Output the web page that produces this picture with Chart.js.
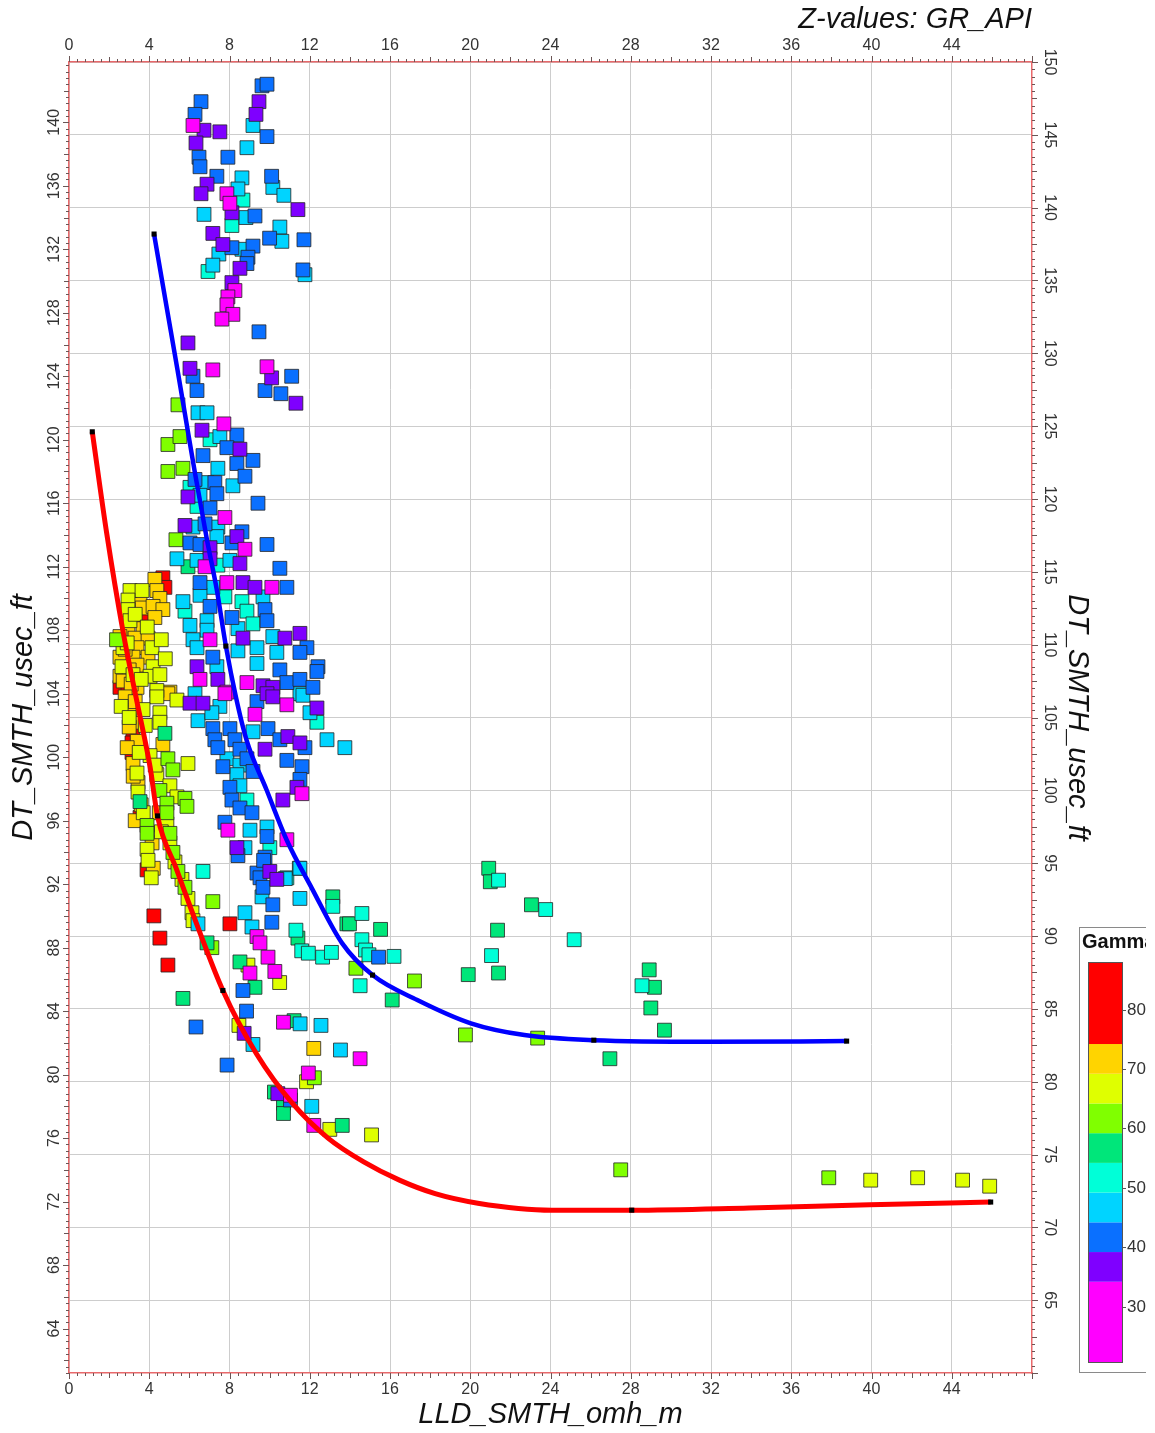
<!DOCTYPE html>
<html>
<head>
<meta charset="utf-8">
<title>LLD vs DT crossplot</title>
<script src="https://cdn.jsdelivr.net/npm/chart.js@4.4.1/dist/chart.umd.min.js"></script>
<style>
  html, body { margin: 0; padding: 0; background: #fff; }
  #wrap { width: 1155px; height: 1433px; }
</style>
</head>
<body>
<div id="wrap"><canvas id="crossplot" width="1155" height="1433"></canvas></div>
<script>
// axis tick labels
const lldTicks = [0, 4, 8, 12, 16, 20, 24, 28, 32, 36, 40, 44];
const dtLeftTicks = [64, 68, 72, 76, 80, 84, 88, 92, 96, 100, 104, 108, 112, 116, 120, 124, 128, 132, 136, 140];
const dtRightTicks = [65, 70, 75, 80, 85, 90, 95, 100, 105, 110, 115, 120, 125, 130, 135, 140, 145, 150];
const gammaTicks = [30, 40, 50, 60, 70, 80];

// colour scale of GR_API (band edges and colours, low to high)
const bandEdges = [34.2, 39.2, 44.2, 49.2, 54.2, 59.2, 64.2, 69.2, 74.2];
const bandColors = ['#ff00ff', '#7f00ff', '#0a70ff', '#00d4ff', '#00ffd8', '#00e67a', '#80ff00', '#dfff00', '#ffd400', '#ff0000'];

// samples: [LLD_SMTH_omh_m, DT_SMTH_usec_ft], grouped by gamma value
const gr30 = [[6.18,139.8],[7.87,135.5],[8.02,134.9],[8.27,129.4],[7.92,129.0],[7.87,128.5],[8.17,127.9],[7.62,127.6],
  [7.17,124.4],[9.87,124.6],[7.72,121.0],[7.77,115.1],[8.77,113.1],[6.78,112.0],[7.87,111.0],[10.11,110.7],[7.03,107.4],
  [6.53,104.9],[8.87,104.7],[7.87,104.1],[7.77,104.0],[10.86,103.3],[9.27,102.7],[11.61,97.7],[7.92,95.4],[10.86,94.8],
  [9.37,88.7],[9.52,88.3],[9.92,87.4],[9.02,86.4],[10.26,86.5],[10.69,83.3],[14.51,81.0],[11.93,80.1],[11.04,78.7],[12.2,76.8]];
const gr37 = [[9.47,141.3],[6.73,139.5],[7.52,139.4],[9.32,140.5],[6.33,138.7],[6.88,136.1],[6.58,135.5],[11.41,134.5],
  [8.12,134.3],[7.17,133.0],[7.67,132.3],[8.52,130.8],[8.12,129.9],[5.93,126.1],[6.03,124.5],[10.1,123.9],[11.31,122.3],
  [6.63,120.6],[8.52,119.4],[5.93,116.4],[5.78,114.6],[8.37,113.9],[7.03,113.2],[7.03,112.5],[8.52,112.2],[8.67,111.0],
  [9.27,110.7],[11.51,107.8],[8.67,107.5],[10.76,107.5],[6.38,105.7],[7.42,104.9],[9.67,104.5],[10.16,104.4],[6.03,103.4],
  [6.68,103.4],[9.87,104.0],[10.16,103.8],[12.36,103.1],[10.91,101.3],[11.51,100.9],[9.77,100.5],[11.36,98.1],[10.66,97.3],
  [8.37,94.3],[10.01,92.8],[10.36,92.3],[8.73,82.6],[10.41,78.8]];
const gr42 = [[9.62,142.3],[9.87,142.4],[6.58,141.3],[6.28,140.5],[9.87,139.1],[7.92,137.8],[6.48,137.8],[6.53,137.2],
  [7.37,136.6],[10.1,136.6],[9.27,134.1],[10.0,132.7],[11.71,132.6],[8.12,132.1],[9.17,132.2],[8.92,131.5],[8.87,131.1],
  [11.66,130.7],[9.47,126.8],[6.18,124.0],[11.1,124.0],[9.77,123.1],[10.56,122.9],[6.38,123.1],[8.37,120.3],[7.87,119.5],
  [9.17,118.7],[8.37,118.5],[6.68,119.0],[8.77,117.7],[6.28,117.5],[7.27,117.3],[7.37,116.6],[9.42,116.0],[7.03,115.7],
  [6.78,114.7],[8.62,114.2],[6.03,113.5],[6.53,113.4],[8.12,113.5],[9.87,113.4],[10.51,111.9],[6.53,111.0],[10.86,110.7],
  [7.03,109.5],[9.77,109.3],[9.87,108.6],[8.12,108.8],[11.86,106.9],[11.51,106.6],[7.17,106.3],[10.51,105.5],[12.41,105.7],
  [12.36,105.4],[10.86,104.7],[11.51,104.9],[12.16,104.4],[9.37,103.5],[7.17,101.8],[8.02,101.8],[9.92,101.8],[7.27,101.1],
  [8.27,101.1],[10.51,101.1],[7.42,100.6],[8.52,100.5],[11.76,100.6],[8.87,99.9],[10.86,99.8],[7.67,99.4],[11.61,99.4],
  [9.17,99.1],[11.51,98.6],[8.02,98.1],[8.12,97.3],[8.52,96.8],[9.12,96.5],[7.77,95.9],[9.87,95.0],[8.42,93.8],[9.77,93.7],
  [9.37,92.7],[9.52,92.4],[9.67,91.8],[10.16,90.7],[10.11,89.6],[8.67,85.3],[8.85,84.0],[6.33,83.0],[7.88,80.6],[11.04,78.4],
  [15.43,87.4],[9.7,93.5]];
const gr47 = [[9.17,139.8],[8.87,138.4],[8.62,136.5],[10.16,135.9],[8.42,135.8],[10.71,135.4],[6.73,134.2],[8.82,134.0],
  [10.51,133.4],[10.61,132.5],[8.62,132.0],[7.47,131.7],[7.17,131.0],[11.76,130.4],[6.43,121.7],[6.88,121.7],[7.52,120.2],
  [7.42,118.2],[6.88,117.3],[8.17,117.1],[6.53,116.5],[6.18,114.5],[7.42,114.5],[7.37,113.9],[5.38,112.5],[6.38,112.4],
  [8.02,112.4],[7.17,110.7],[5.68,109.8],[6.53,110.2],[9.67,110.1],[6.88,108.6],[6.03,108.3],[6.88,108.0],[8.42,108.1],
  [6.18,107.4],[10.16,107.6],[6.38,106.9],[8.42,106.7],[9.37,106.9],[10.36,106.6],[7.37,105.7],[9.37,105.9],[6.28,104.0],
  [11.51,104.0],[11.66,103.9],[12.01,102.8],[7.52,103.2],[6.43,102.3],[7.12,102.8],[9.17,101.6],[12.86,101.1],[13.75,100.6],
  [7.87,99.9],[8.52,99.5],[8.37,98.9],[8.52,98.2],[9.02,95.4],[9.87,95.6],[8.77,94.3],[11.51,93.0],[9.62,91.2],[11.51,91.1],
  [8.77,90.2],[6.43,89.5],[9.12,89.3],[10.78,92.35],[9.17,81.9],[11.52,83.2],[12.56,83.1],[13.53,81.55],[12.1,78.0]];
const gr52 = [[8.67,135.1],[8.12,133.5],[6.93,130.6],[7.03,120.0],[6.03,117.0],[6.38,115.8],[7.42,112.1],[7.77,110.1],
  [8.62,109.8],[5.78,109.2],[8.87,109.2],[9.17,108.4],[12.36,102.2],[8.87,97.3],[10.01,94.3],[6.68,92.8],[10.86,92.4],
  [13.15,90.6],[11.31,89.1],[11.6,87.8],[11.93,87.65],[12.64,87.4],[13.08,87.7],[14.6,90.15],[14.6,88.5],[14.78,87.85],
  [14.95,87.55],[16.2,87.45],[14.51,85.6],[21.41,92.25],[23.76,90.4],[25.18,88.5],[21.06,87.5],[28.56,85.6],[11.48,93.0]];
const gr57 = [[5.93,112.0],[4.78,101.5],[3.54,97.2],[13.15,91.2],[13.85,89.5],[11.41,88.6],[6.88,88.3],[8.52,87.1],
  [9.27,85.5],[5.68,84.8],[11.22,83.4],[10.24,78.9],[10.69,78.2],[10.69,77.55],[13.62,76.8],[20.92,93.0],[21.0,92.15],
  [23.05,90.7],[21.36,89.1],[21.41,86.4],[19.9,86.3],[16.11,84.7],[13.98,89.5],[15.53,89.15],[26.96,81.0],[28.92,86.6],
  [29.18,85.5],[29.0,84.2],[29.68,82.8]];
const gr62 = [[5.43,122.2],[4.93,119.7],[5.53,120.2],[4.93,118.0],[5.68,118.2],[5.33,113.7],[4.93,99.9],[5.18,99.2],
  [4.53,97.9],[5.78,97.4],[4.88,97.1],[5.88,96.9],[4.88,96.5],[3.89,95.7],[3.89,95.2],[5.03,95.2],[5.18,94.0],[5.43,92.8],
  [5.78,91.8],[7.17,90.9],[7.12,88.0],[12.23,79.8],[17.22,85.9],[14.3,86.7],[19.76,82.5],[23.36,82.3],[27.5,74.0],
  [37.87,73.5],[2.37,107.4]];
const gr67 = [[3.04,110.5],[3.64,110.5],[2.94,109.9],[2.94,109.3],[3.04,108.6],[2.69,106.9],[4.14,106.9],[2.64,105.7],
  [4.19,105.7],[3.19,105.2],[4.04,105.1],[4.53,105.2],[4.38,104.2],[4.38,103.8],[5.38,103.6],[3.69,103.0],[4.53,102.8],
  [4.53,102.2],[4.04,100.1],[5.93,99.6],[3.39,99.0],[4.38,98.9],[5.03,98.2],[3.44,97.8],[5.38,97.5],[4.88,95.8],[3.89,94.2],
  [5.03,94.6],[3.94,93.5],[5.28,93.4],[5.63,92.3],[5.93,91.1],[6.13,90.2],[6.18,89.7],[8.92,86.9],[10.5,85.8],[8.47,83.1],
  [11.84,79.55],[13.0,76.55],[15.08,76.2],[39.96,73.35],[42.3,73.5],[44.54,73.35],[45.89,72.97],
  [3.3,109.0],[3.9,108.2],[4.6,107.4],[2.9,107.2],[3.6,104.9],[2.6,103.2],[3.8,102.0],[3.5,100.3],[4.3,99.5],[3.7,96.5],
  [4.6,95.3],[4.1,92.4],[3.0,102.5],[4.8,106.2]];
const gr72 = [[4.28,111.2],[4.38,110.5],[3.54,110.0],[4.53,110.0],[3.64,109.4],[4.19,109.5],[4.68,109.3],[4.28,108.8],
  [2.94,108.0],[3.69,108.1],[2.54,107.6],[3.29,107.5],[3.94,107.5],[3.39,106.9],[2.54,106.3],[3.19,106.3],[3.94,106.3],
  [3.39,105.8],[2.54,105.1],[3.39,104.4],[5.03,104.1],[4.93,104.0],[2.94,103.4],[3.04,102.8],[3.14,102.2],[4.68,100.8],
  [3.19,99.6],[3.44,98.4],[4.14,94.6],[12.2,81.65],
  [2.8,106.8],[3.0,105.5],[2.7,104.8],[3.1,104.6],[2.8,103.8],[3.3,103.5],[3.0,101.9],[3.4,101.0],[2.9,100.6],[3.2,98.8],
  [3.6,97.0],[3.3,96.0],[4.5,96.5],[4.2,93.0]];
const gr80 = [[4.68,111.3],[4.78,110.7],[3.79,108.8],[2.54,104.4],[2.94,104.1],[3.19,101.5],[3.14,100.9],[3.14,100.3],
  [3.54,96.2],[3.89,92.9],[4.23,90.0],[8.02,89.5],[4.53,88.6],[4.93,86.9]];
const gammaLevels = [30, 37, 42, 47, 52, 57, 62, 67, 72, 80];
const gammaPoints = [gr30, gr37, gr42, gr47, gr52, gr57, gr62, gr67, gr72, gr80];

// fitted trend curves
const redFitLld = [1.16, 1.88, 2.71, 3.37, 4.04, 4.41, 5.37, 6.36, 7.67, 9.35, 11.13, 12.91, 14.69, 16.47, 18.25, 20.38, 24.07, 28.05, 33.9, 39.9, 45.94];
const redFitDt = [120.5, 114.1, 107.8, 103.6, 99.4, 96.3, 92.9, 89.5, 85.3, 81.3, 78.2, 76.0, 74.5, 73.35, 72.5, 71.9, 71.46, 71.46, 71.6, 71.8, 71.97];
const redKnotLld = [1.16, 4.41, 7.67, 28.05, 45.94];
const redKnotDt = [120.5, 96.3, 85.3, 71.46, 71.97];
const blueFitLld = [4.24, 4.83, 5.41, 5.90, 6.28, 6.88, 7.37, 7.82, 8.32, 8.85, 9.85, 10.85, 12.1, 13.6, 15.13, 17.36, 20.03, 22.7, 26.16, 31.89, 38.76];
const blueFitDt = [132.96, 128.62, 124.39, 120.72, 117.9, 113.68, 110.53, 107.0, 103.79, 101.08, 97.93, 94.78, 91.75, 88.3, 86.27, 84.7, 83.23, 82.49, 82.17, 82.07, 82.11];
const blueKnotLld = [4.24, 7.82, 15.13, 26.16, 38.76];
const blueKnotDt = [132.96, 107.0, 86.27, 82.17, 82.11];

const FONT = '"Liberation Sans", Arial, sans-serif';
const axisRed = '#e8696b';
const gridGrey = '#cdcdcd';
const tickFont = { family: FONT, size: 16 };
const titleFont = { family: FONT, size: 29, style: 'italic' };

function bandColor(g) {
  let i = 0;
  while (i < bandEdges.length && g >= bandEdges[i]) i++;
  return bandColors[i];
}
const pairs = (xs, ys) => xs.map((x, i) => ({ x: x, y: ys[i] }));

const datasets = [];
datasets.push({ data: pairs(redKnotLld, redKnotDt), pointStyle: 'rect', pointRadius: 3.6, backgroundColor: '#000', borderColor: '#000', borderWidth: 0, order: 0 });
datasets.push({ data: pairs(blueKnotLld, blueKnotDt), pointStyle: 'rect', pointRadius: 3.6, backgroundColor: '#000', borderColor: '#000', borderWidth: 0, order: 0 });
datasets.push({ data: pairs(redFitLld, redFitDt), showLine: true, pointRadius: 0, borderColor: '#ff0000', borderWidth: 5, cubicInterpolationMode: 'monotone', order: 1 });
datasets.push({ data: pairs(blueFitLld, blueFitDt), showLine: true, pointRadius: 0, borderColor: '#0000ff', borderWidth: 4.5, cubicInterpolationMode: 'monotone', order: 1 });
gammaLevels.forEach((g, i) => {
  datasets.push({
    label: 'GR ' + g,
    data: gammaPoints[i].map(p => ({ x: p[0], y: p[1] })),
    pointStyle: 'rect',
    pointRadius: 9.8,
    backgroundColor: bandColor(g),
    borderColor: 'rgba(35,35,35,0.8)',
    borderWidth: 1,
    order: 2
  });
});

// small ticks along the four axes
const minorTicks = {
  id: 'minorTicks',
  afterDraw(chart) {
    const { ctx, scales } = chart;
    const a = chart.chartArea;
    ctx.save();
    ctx.strokeStyle = '#6a5555';
    ctx.lineWidth = 1;
    ctx.beginPath();
    for (let i = 0; i <= 120; i++) {
      const px = Math.round(scales.x.getPixelForValue(i * 0.4)) + 0.5;
      const len = i % 10 === 0 ? 6 : (i % 5 === 0 ? 5 : 3);
      ctx.moveTo(px, a.bottom); ctx.lineTo(px, a.bottom + len);
      ctx.moveTo(px, a.top); ctx.lineTo(px, a.top - len);
    }
    for (let i = 153; i <= 359; i++) {
      const py = Math.round(scales.y.getPixelForValue(i * 0.4)) + 0.5;
      const len = i % 10 === 0 ? 6 : (i % 5 === 0 ? 5 : 3);
      ctx.moveTo(a.left, py); ctx.lineTo(a.left - len, py);
    }
    for (let i = 120; i <= 300; i++) {
      const py = Math.round(scales.y2.getPixelForValue(i * 0.5)) + 0.5;
      const len = i % 10 === 0 ? 6 : (i % 5 === 0 ? 5 : 3);
      ctx.moveTo(a.right, py); ctx.lineTo(a.right + len, py);
    }
    ctx.stroke();
    ctx.restore();
  }
};

// GR_API colour bar legend at the lower right (cut by the picture edge as in the source)
const colorBar = {
  id: 'colorBar',
  afterDraw(chart) {
    const ctx = chart.ctx;
    const left = 1088, right = 1122, top = 962, bottom = 1362;
    const vMin = 20.7, vMax = 88.0;
    const yOf = v => bottom - (v - vMin) / (vMax - vMin) * (bottom - top);
    ctx.save();
    ctx.beginPath();
    ctx.rect(1040, 900, 106, 500);
    ctx.clip();
    ctx.strokeStyle = '#8a8a8a';
    ctx.lineWidth = 1;
    ctx.strokeRect(1079.5, 927.5, 100, 445);
    ctx.fillStyle = '#111';
    ctx.font = 'bold 20px ' + FONT;
    ctx.textBaseline = 'alphabetic';
    ctx.fillText('Gamma', 1082, 948);
    const edges = [vMin].concat(bandEdges, [vMax]);
    for (let i = 0; i < bandColors.length; i++) {
      const y0 = yOf(edges[i + 1]), y1 = yOf(edges[i]);
      ctx.fillStyle = bandColors[i];
      ctx.fillRect(left, y0, right - left, y1 - y0);
    }
    ctx.strokeStyle = '#555';
    ctx.strokeRect(left + 0.5, top + 0.5, right - left, bottom - top);
    ctx.font = '17px ' + FONT;
    ctx.fillStyle = '#333';
    ctx.textBaseline = 'middle';
    gammaTicks.forEach(v => {
      const y = Math.round(yOf(v)) + 0.5;
      ctx.beginPath();
      ctx.moveTo(right, y); ctx.lineTo(right + 4, y);
      ctx.stroke();
      ctx.fillText(String(v), right + 5, y);
    });
    ctx.restore();
  }
};

new Chart(document.getElementById('crossplot').getContext('2d'), {
  type: 'scatter',
  data: { datasets: datasets },
  options: {
    responsive: false,
    devicePixelRatio: 1,
    animation: false,
    events: [],
    layout: { padding: 0 },
    plugins: { legend: { display: false }, tooltip: { enabled: false } },
    scales: {
      x: {
        type: 'linear', position: 'bottom', min: 0, max: 48,
        afterBuildTicks: s => { s.ticks = lldTicks.map(v => ({ value: v })); },
        afterFit: s => { s.height = 60; },
        grid: { color: gridGrey, drawTicks: false },
        border: { color: axisRed, width: 1.5 },
        ticks: { font: tickFont, color: '#333', padding: 7, autoSkip: false, maxRotation: 0 },
        title: { display: true, text: 'LLD_SMTH_omh_m', font: titleFont, color: '#111', padding: { top: 0, bottom: 1 } }
      },
      xTop: {
        type: 'linear', position: 'top', min: 0, max: 48,
        afterBuildTicks: s => { s.ticks = lldTicks.map(v => ({ value: v })); },
        afterFit: s => { s.height = 62; },
        grid: { drawOnChartArea: false, drawTicks: false },
        border: { color: axisRed, width: 1.5 },
        ticks: { font: tickFont, color: '#333', padding: 7, autoSkip: false, maxRotation: 0 },
        title: { display: true, text: 'Z-values: GR_API', align: 'end', font: titleFont, color: '#111', padding: { top: 3, bottom: 0 } }
      },
      y: {
        type: 'linear', position: 'left', min: 61.2, max: 143.8,
        afterBuildTicks: s => { s.ticks = dtLeftTicks.map(v => ({ value: v })); },
        afterFit: s => { s.width = 69; },
        grid: { drawOnChartArea: false, drawTicks: false },
        border: { color: axisRed, width: 1.5 },
        ticks: { font: tickFont, color: '#333', padding: 1, autoSkip: false, minRotation: 90, maxRotation: 90, crossAlign: 'center' },
        title: { display: true, text: 'DT_SMTH_usec_ft', font: titleFont, color: '#111', padding: { top: 7, bottom: 0 } }
      },
      y2: {
        type: 'linear', position: 'right', min: 60, max: 150,
        afterBuildTicks: s => { s.ticks = dtRightTicks.map(v => ({ value: v })); },
        afterFit: s => { s.width = 123; },
        grid: { color: gridGrey, drawTicks: false },
        border: { color: axisRed, width: 1.5 },
        ticks: { font: tickFont, color: '#333', padding: 4, autoSkip: false, minRotation: -90, maxRotation: -90, crossAlign: 'center' },
        title: { display: true, text: 'DT_SMTH_usec_ft', font: titleFont, color: '#111', padding: { top: 61, bottom: 0 } }
      }
    }
  },
  plugins: [minorTicks, colorBar]
});
</script>
</body>
</html>
